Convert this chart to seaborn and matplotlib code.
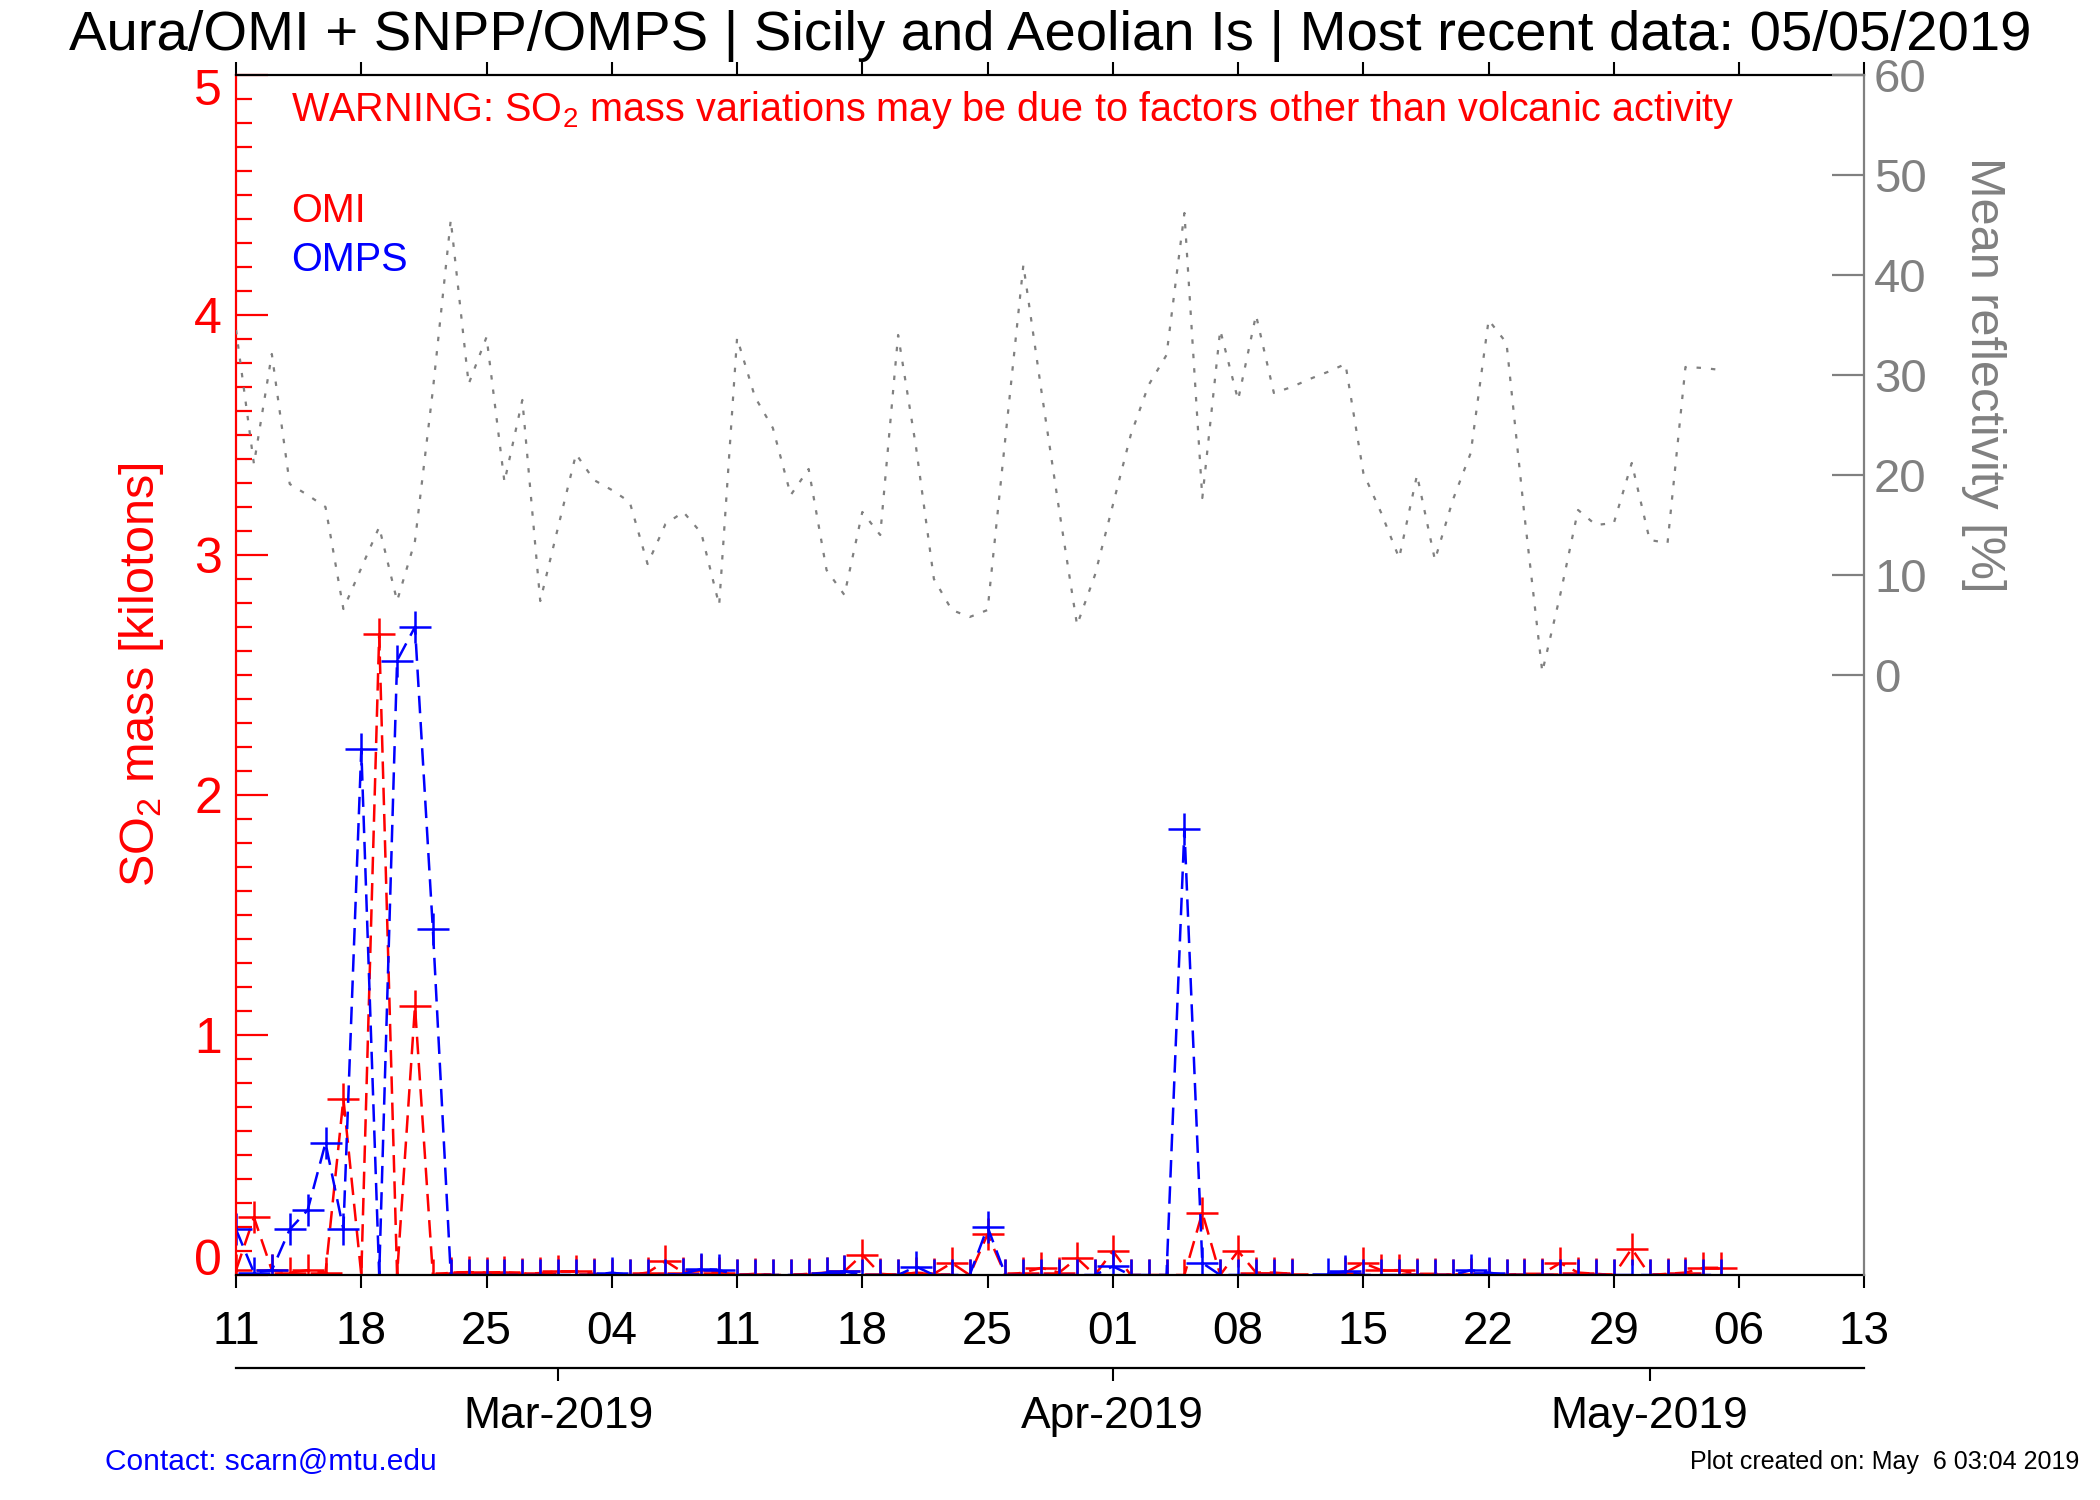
import numpy as np
import pandas as pd
import matplotlib
matplotlib.use("Agg")
import matplotlib.pyplot as plt
import matplotlib.dates as mdates
import matplotlib.transforms as mtransforms
from matplotlib.ticker import MultipleLocator
import seaborn as sns

nan = np.nan

# daily samples, Feb 11 2019 .. May 5 2019
dates = pd.date_range("2019-02-11", "2019-05-05", freq="D")

# SO2 mass [kt], Aura/OMI
omi_so2 = [
    0.02, 0.24, 0.02, 0.01, 0.02, 0.01, 0.735,
    0.0, 2.67, 0.0, 1.12, 0.0, 0.01, 0.012,
    0.01, 0.012, 0.005, 0.008, 0.015, 0.015, 0.005,
    0.0, 0.0, 0.01, 0.058, 0.01, 0.02, 0.01,
    0.0, 0.005, 0.0, 0.0, 0.005, 0.01, 0.015,
    0.085, 0.005, 0.0, 0.01, 0.005, 0.05, 0.0,
    0.17, 0.0, 0.01, 0.03, 0.01, 0.07, 0.0,
    0.10, 0.0, 0.0, 0.0, 0.0, 0.26, 0.0,
    0.10, 0.01, 0.01, 0.005, nan, nan, 0.01,
    0.05, 0.02, 0.02, 0.005, 0.005, 0.0, 0.005,
    0.005, 0.0, 0.005, 0.005, 0.05, 0.01, 0.005,
    0.0, 0.11, 0.0, 0.005, 0.01, 0.03, 0.03,
]

# SO2 mass [kt], SNPP/OMPS
omps_so2 = [
    0.19, 0.01, 0.02, 0.19, 0.27, 0.55, 0.19,
    2.19, 0.0, 2.56, 2.70, 1.44, 0.0, 0.0,
    0.0, 0.0, 0.0, 0.0, 0.0, 0.0, 0.0,
    0.01, 0.0, 0.0, 0.0, 0.005, 0.025, 0.02,
    0.0, 0.0, 0.0, 0.0, 0.0, 0.01, 0.015,
    0.0, 0.0, 0.0, 0.035, 0.0, 0.0, 0.0,
    0.20, 0.0, 0.0, 0.0, 0.0, 0.0, 0.0,
    0.036, 0.0, 0.0, 0.0, 1.86, 0.05, 0.0,
    0.0, 0.0, 0.0, 0.0, nan, 0.005, 0.015,
    0.0, 0.0, 0.0, 0.0, 0.0, 0.0, 0.02,
    0.01, 0.0, 0.0, 0.0, 0.0, 0.0, 0.0,
    0.0, 0.0, 0.0, 0.0, 0.0, 0.0, 0.0,
]

# mean reflectivity [%]
reflectivity = [
    34.5, 21.1, 32.1, 19.1, 18.0, 16.8, 6.6,
    10.7, 14.8, 7.4, 13.4, 28.5, 45.5, 29.1,
    33.8, 19.3, 27.5, 7.4, 14.8, 22.1, 19.5,
    18.5, 17.3, 11.1, 15.1, 16.3, 14.2, 7.0,
    33.7, 27.8, 24.7, 18.0, 20.6, 10.5, 8.0,
    16.3, 14.0, 34.0, 22.8, 9.6, 6.5, 5.8,
    6.5, 23.8, 41.0, 28.5, 16.5, 5.0, 10.0,
    17.0, 24.0, 29.0, 32.0, 46.2, 17.7, 34.5,
    27.5, 36.0, 28.2, 28.8, 29.6, 30.3, 31.1,
    20.2, 16.2, 11.7, 20.0, 11.5, 17.5, 22.2,
    35.5, 33.2, 16.0, 0.3, 8.0, 16.5, 15.0,
    15.2, 21.2, 13.5, 13.2, 30.8, 30.7, 30.5,
]

title = "Aura/OMI + SNPP/OMPS | Sicily and Aeolian Is | Most recent data: 05/05/2019"

df = pd.DataFrame({"date": dates, "OMI": omi_so2, "OMPS": omps_so2, "refl": reflectivity})


def segments(col):
    # split at missing days so the line shows a gap there
    d = df[["date", col]].copy()
    d["seg"] = d[col].isna().cumsum()
    return d.dropna()


sns.set_style("white")
plt.rcParams["font.family"] = ["Liberation Sans", "DejaVu Sans"]
plt.rcParams["mathtext.fontset"] = "custom"
plt.rcParams["mathtext.rm"] = "Liberation Sans"
plt.rcParams["mathtext.it"] = "Liberation Sans:italic"
plt.rcParams["text.color"] = "black"

grey = "#808080"
fig = plt.figure(figsize=(21, 15), dpi=100)
ax = fig.add_axes([0.1124, 0.15, 0.7754, 0.80])

for col, c in [("OMI", "red"), ("OMPS", "blue")]:
    sns.lineplot(data=segments(col), x="date", y=col, units="seg", estimator=None,
                 color=c, marker="+", markersize=23, markeredgewidth=1.8,
                 markeredgecolor=c, linewidth=1.8, linestyle=(0, (7, 3.5)),
                 ax=ax, legend=False)

ax2 = ax.twinx()
sns.lineplot(data=df, x="date", y="refl", color=grey, linewidth=1.6,
             linestyle=(0, (2, 4.5)), ax=ax2, legend=False)

# x axis: weekly day numbers
ax.set_xlim(pd.Timestamp("2019-02-11"), pd.Timestamp("2019-05-13"))
ax.xaxis.set_major_locator(mdates.WeekdayLocator(byweekday=mdates.MO))
ax.xaxis.set_major_formatter(mdates.DateFormatter("%d"))
ax.tick_params(axis="x", which="major", top=True, bottom=True, direction="out",
               length=9.5, width=1.5, labelsize=33, pad=16, colors="black")
ax.set_xlabel("")

# month axis below
sec = ax.secondary_xaxis(-0.0775)
sec.xaxis.set_major_locator(mdates.MonthLocator())
sec.xaxis.set_major_formatter(mdates.DateFormatter("%b-%Y"))
sec.tick_params(axis="x", direction="out", length=9.5, width=1.5, labelsize=32,
                pad=11, colors="black")
sec.spines["bottom"].set_linewidth(1.6)
sec.spines["bottom"].set_color("black")

# left axis (SO2)
ax.set_ylim(0, 5)
ax.yaxis.set_major_locator(MultipleLocator(1))
ax.yaxis.set_minor_locator(MultipleLocator(0.1))
ax.tick_params(axis="y", which="major", left=True, direction="in", length=23,
               width=1.6, colors="red", labelsize=36, pad=10)
ax.tick_params(axis="y", which="minor", left=True, direction="in", length=11.5,
               width=1.6, colors="red")
ax.set_ylabel("SO$_2$ mass [kilotons]", color="red", fontsize=35, va="center", ha="center")
ax.yaxis.set_label_coords(-0.058, 0.5)

# right axis (reflectivity)
ax2.set_ylim(-60, 60)
ax2.set_yticks(range(0, 61, 10))
ax2.tick_params(axis="y", which="major", right=True, direction="in", length=23,
                width=1.6, colors=grey, labelsize=34, pad=7)
ax2.set_ylabel("Mean reflectivity [%]", color=grey, fontsize=35, rotation=270,
               va="center", ha="center")
ax2.yaxis.set_label_coords(1.073, 0.75)

for side in ["top", "bottom"]:
    ax.spines[side].set_color("black")
    ax.spines[side].set_linewidth(1.6)
    ax2.spines[side].set_visible(False)
ax.spines["left"].set_color("red")
ax.spines["left"].set_linewidth(1.6)
ax.spines["right"].set_visible(False)
ax2.spines["left"].set_visible(False)
ax2.spines["right"].set_color(grey)
ax2.spines["right"].set_linewidth(1.6)

ax.text(0.034, 0.971,
        "WARNING: SO$_2$ mass variations may be due to factors other than volcanic activity",
        transform=ax.transAxes, color="red", fontsize=28.5, va="center")
ax.text(0.034, 0.887, "OMI", transform=ax.transAxes, color="red", fontsize=28.5, va="center")
ax.text(0.034, 0.846, "OMPS", transform=ax.transAxes, color="blue", fontsize=28.5, va="center")

fig.text(0.5, 0.976, title, ha="center", va="center", fontsize=40.5, color="black")
fig.text(0.05, 0.025, "Contact: scarn@mtu.edu", color="blue", fontsize=21.5, va="center")
fig.text(0.99, 0.025, "Plot created on: May  6 03:04 2019", ha="right", fontsize=18,
         va="center", color="black")

# end labels of the SO2 axis sit inside the frame, as in the original
fig.canvas.draw()
yticks = ax.yaxis.get_major_ticks()
for tk in yticks:
    val = tk.get_loc()
    if abs(val) < 1e-9:
        shift = 0.18
    elif abs(val - 5) < 1e-9:
        shift = -0.12
    else:
        continue
    tk.label1.set_transform(tk.label1.get_transform()
                            + mtransforms.ScaledTranslation(0, shift, fig.dpi_scale_trans))

fig.savefig("out.png", dpi=100)
